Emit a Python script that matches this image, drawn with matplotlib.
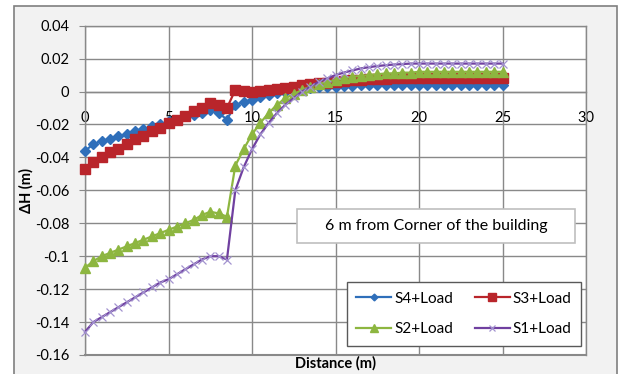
import matplotlib
matplotlib.use("Agg")
import matplotlib.pyplot as plt
from matplotlib.patches import Rectangle
from matplotlib.ticker import FuncFormatter

plt.rcParams['font.family'] = ['Lato', 'DejaVu Sans']
plt.rcParams['axes.unicode_minus'] = False

# distance along the section (m)
distance = [0, 0.5, 1, 1.5, 2, 2.5, 3, 3.5, 4, 4.5,
            5, 5.5, 6, 6.5, 7, 7.5, 8, 8.5, 9, 9.5,
            10, 10.5, 11, 11.5, 12, 12.5, 13, 13.5, 14, 14.5,
            15, 15.5, 16, 16.5, 17, 17.5, 18, 18.5, 19, 19.5,
            20, 20.5, 21, 21.5, 22, 22.5, 23, 23.5, 24, 24.5, 25]

# settlement dH (m) for each stage
s4_load = [-0.036, -0.032, -0.030, -0.029, -0.027, -0.026, -0.024, -0.023, -0.021, -0.020,
           -0.018, -0.017, -0.015, -0.014, -0.013, -0.0115, -0.013, -0.017, -0.008, -0.0065,
           -0.005, -0.0035, -0.002, -0.001, 0.000, 0.001, 0.0015, 0.002, 0.0025, 0.003,
           0.003, 0.0033, 0.0035, 0.0037, 0.0038, 0.004, 0.004, 0.004, 0.004, 0.004,
           0.004, 0.004, 0.004, 0.004, 0.004, 0.004, 0.004, 0.004, 0.004, 0.004, 0.004]

s3_load = [-0.047, -0.043, -0.040, -0.037, -0.035, -0.032, -0.029, -0.027, -0.024, -0.022,
           -0.019, -0.017, -0.015, -0.012, -0.010, -0.007, -0.008, -0.010, 0.001, 0.0005,
           0.000, 0.0005, 0.001, 0.0015, 0.002, 0.003, 0.004, 0.0045, 0.005, 0.0055,
           0.006, 0.0065, 0.007, 0.007, 0.0075, 0.0075, 0.0078, 0.008, 0.008, 0.008,
           0.008, 0.008, 0.008, 0.008, 0.008, 0.008, 0.008, 0.008, 0.008, 0.008, 0.008]

s2_load = [-0.107, -0.103, -0.100, -0.098, -0.096, -0.094, -0.092, -0.090, -0.088, -0.086,
           -0.084, -0.082, -0.080, -0.078, -0.075, -0.073, -0.074, -0.076, -0.045, -0.035,
           -0.026, -0.019, -0.013, -0.008, -0.004, -0.0015, 0.001, 0.003, 0.0045, 0.006,
           0.007, 0.008, 0.009, 0.0095, 0.010, 0.0105, 0.011, 0.011, 0.0115, 0.0115,
           0.012, 0.012, 0.012, 0.012, 0.012, 0.012, 0.012, 0.012, 0.012, 0.012, 0.012]

s1_load = [-0.146, -0.140, -0.137, -0.134, -0.131, -0.128, -0.125, -0.122, -0.119, -0.116,
           -0.114, -0.111, -0.108, -0.105, -0.102, -0.100, -0.100, -0.102, -0.060, -0.046,
           -0.035, -0.026, -0.019, -0.013, -0.008, -0.004, 0.000, 0.003, 0.006, 0.008,
           0.010, 0.0115, 0.0128, 0.014, 0.0148, 0.0155, 0.016, 0.0164, 0.0167, 0.017,
           0.017, 0.017, 0.017, 0.017, 0.017, 0.017, 0.017, 0.017, 0.017, 0.017, 0.017]

x_ticks = [0, 5, 10, 15, 20, 25, 30]
y_ticks = [-0.16, -0.14, -0.12, -0.1, -0.08, -0.06, -0.04, -0.02, 0, 0.02, 0.04]

grid_col = '#898989'

fig = plt.figure(figsize=(6.22, 3.74), dpi=100)
fig.patch.set_facecolor('white')
# grey chart area with border
fig.patches.append(Rectangle((14 / 622, -0.02), (617 - 14) / 622, 1 - 6 / 374 + 0.02,
                             transform=fig.transFigure, facecolor='#f2f2f2',
                             edgecolor='#7f7f7f', linewidth=1.2, zorder=-10))

ax = fig.add_axes([85 / 622, 1 - 355 / 374, (586 - 85) / 622, (355 - 25.7) / 374])
ax.set_facecolor('white')

ax.plot(distance, s4_load, color='#2F6FBA', lw=1.6, marker='D', ms=4.6,
        label='S4+Load', zorder=3, clip_on=False)
ax.plot(distance, s3_load, color='#B9252B', lw=1.6, marker='s', ms=6.8,
        label='S3+Load', zorder=4, clip_on=False)
ax.plot(distance, s2_load, color='#8DB640', lw=1.6, marker='^', ms=7.2,
        label='S2+Load', zorder=5, clip_on=False)
ax.plot(distance, s1_load, color='#7040A0', lw=1.6, marker='x', ms=6,
        mec='#A393CF', mew=0.9, label='S1+Load', zorder=6, clip_on=False)

ax.set_xlim(0, 30)
ax.set_ylim(-0.16, 0.04)
ax.set_xticks(x_ticks)
ax.set_yticks(y_ticks)
ax.yaxis.set_major_formatter(FuncFormatter(lambda v, p: f'{round(v, 2):g}'))
ax.grid(True, color=grid_col, lw=1)
ax.set_axisbelow(True)

# horizontal axis crosses at zero
ax.spines['bottom'].set_position(('data', 0))
for side in ['bottom', 'top', 'left', 'right']:
    ax.spines[side].set_color(grid_col)
    ax.spines[side].set_linewidth(1)
ax.axhline(-0.16, color=grid_col, lw=1.5, clip_on=False, zorder=1)

ax.tick_params(axis='x', length=0, pad=14, labelsize=10.5)
ax.tick_params(axis='y', direction='out', length=4.3, color=grid_col,
               pad=7, labelsize=10.5)

ax.set_xlabel('Distance (m)', fontsize=10.5, fontweight='bold')
ax.xaxis.label.set_va('center')
ax.xaxis.set_label_coords(0.5, -0.024)
ax.set_ylabel('ΔH (m)', fontsize=10.5, fontweight='bold')
ax.yaxis.label.set_va('center')
ax.yaxis.set_label_coords(-0.118, 0.5)

# annotation box
fig.patches.append(Rectangle((297 / 622, 1 - 243 / 374), (575 - 297) / 622, 34 / 374,
                             transform=fig.transFigure, facecolor='white',
                             edgecolor='#bfbfbf', linewidth=1.2, zorder=5))
fig.text(436 / 622, 1 - 226 / 374, '6 m from Corner of the building',
         ha='center', va='center', fontsize=11.5, zorder=6)

handles, labels = ax.get_legend_handles_labels()
order = [0, 2, 1, 3]
leg = ax.legend([handles[i] for i in order], [labels[i] for i in order],
                ncol=2, loc='center', bbox_to_anchor=(464 / 622, 1 - 314 / 374),
                bbox_transform=fig.transFigure, fontsize=11,
                frameon=True, fancybox=False, framealpha=1, edgecolor='#595959',
                handlelength=2.3, handletextpad=0.2, columnspacing=1.4,
                labelspacing=1.1, borderpad=0.6, markerscale=0.75)
leg.get_frame().set_linewidth(1.0)

fig.savefig('out.png', dpi=100)
